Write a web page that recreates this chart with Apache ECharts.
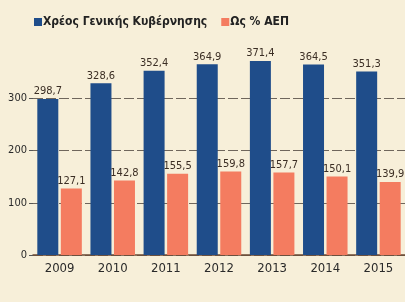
<!DOCTYPE html>
<html>
<head>
<meta charset="utf-8">
<script src="https://cdn.jsdelivr.net/npm/echarts@6/dist/echarts.min.js"></script>
<style>
    html, body { margin: 0; padding: 0; background: #f7efd9; }
    #chart { width: 405px; height: 302px; }
</style>
</head>
<body>
<div id="chart"></div>
<script>
const years = ['2009', '2010', '2011', '2012', '2013', '2014', '2015']
const debtData = [298.7, 328.6, 352.4, 364.9, 371.4, 364.5, 351.3]
const gdpData = [127.1, 142.8, 155.5, 159.8, 157.7, 150.1, 139.9]
const yTicks = [0, 100, 200, 300]

const fmt = (p) => String(p.value).replace('.', ',')
const font = "'Liberation Sans Narrow', 'DejaVu Sans Condensed', sans-serif"

const chart = echarts.init(document.getElementById('chart'))
chart.setOption({
    backgroundColor: '#f7efd9',
    textStyle: { fontFamily: font },
    legend: {
        left: 29,
        top: 11,
        itemWidth: 8,
        itemHeight: 8,
        itemGap: 14,
        icon: 'rect',
        textStyle: { fontFamily: font, fontSize: 12, fontWeight: 'bold', color: '#222', padding: [0, 0, 0, -4] },
        data: ['Χρέος Γενικής Κυβέρνησης', 'Ως % ΑΕΠ'],
    },
    grid: { left: 33, right: -3, top: 46, bottom: 47 },
    xAxis: {
        type: 'category',
        data: years,
        axisLine: { lineStyle: { color: '#6b4a33', width: 1.5 } },
        axisTick: { show: false },
        axisLabel: { color: '#2a2a2a', fontSize: 13, margin: 7, fontFamily: font },
    },
    yAxis: {
        type: 'value',
        min: 0,
        max: 400,
        interval: 100,
        axisLine: { show: false },
        axisTick: { show: true, length: 4, lineStyle: { color: '#555' } },
        axisLabel: {
            color: '#2a2a2a', fontSize: 11, margin: 6, showMaxLabel: false, fontFamily: font,
            formatter: (v) => (yTicks.includes(v) ? String(v) : ''),
        },
        splitLine: { show: true, showMaxLine: false, lineStyle: { color: '#6f665c', width: 1, type: [10, 3] } },
    },
    series: [
        {
            name: 'Χρέος Γενικής Κυβέρνησης',
            type: 'bar',
            data: debtData,
            barWidth: 21,
            barGap: '12%',
            itemStyle: { color: '#1f4d8a' },
            label: { show: true, position: 'top', distance: 2, color: '#3b2e24', fontSize: 11, formatter: fmt },
        },
        {
            name: 'Ως % ΑΕΠ',
            type: 'bar',
            data: gdpData,
            barWidth: 21,
            itemStyle: { color: '#f47c60' },
            label: { show: true, position: 'top', distance: 2, color: '#3b2e24', fontSize: 11, formatter: fmt },
        },
    ],
})
</script>
</body>
</html>
